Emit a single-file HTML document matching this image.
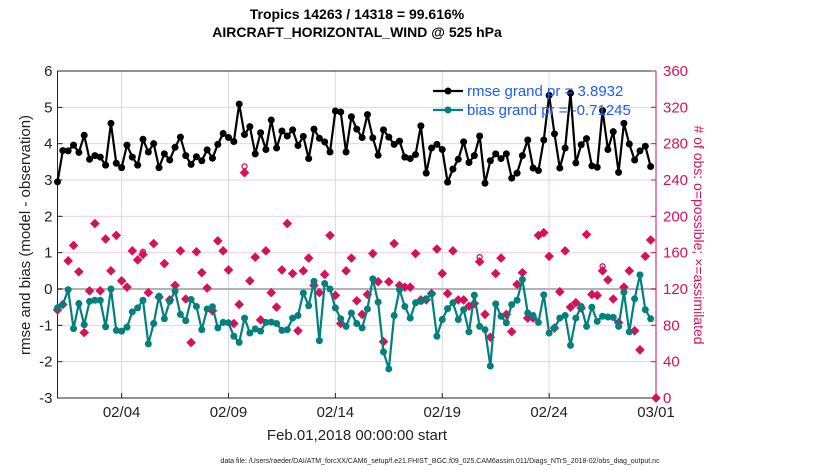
<!DOCTYPE html>
<html><head><meta charset="utf-8">
<style>
html,body{margin:0;padding:0;background:#fff;}
svg{display:block;font-family:"Liberation Sans",Arial,sans-serif;}
</style></head>
<body>
<svg id="chart" width="830" height="470" viewBox="0 0 830 470">
  <rect width="830" height="470" fill="#fff"/>
  <text x="357" y="19" text-anchor="middle" font-size="14" font-weight="bold">Tropics 14263 / 14318 = 99.616%</text>
  <text x="357" y="37" text-anchor="middle" font-size="14" font-weight="bold">AIRCRAFT_HORIZONTAL_WIND @ 525 hPa</text>
  <g id="grid"></g>
  <g id="axes"></g>
  <g id="series"></g>
  <text x="357" y="440" text-anchor="middle" font-size="15" fill="#222">Feb.01,2018 00:00:00 start</text>
  <text transform="translate(30,235) rotate(-90)" text-anchor="middle" font-size="15" fill="#222">rmse and bias (model - observation)</text>
  <text transform="translate(694,235) rotate(90)" text-anchor="middle" font-size="14" fill="#d6115a"># of obs: o=possible; ×=assimilated</text>
  <text x="440" y="463" text-anchor="middle" font-size="7" fill="#222">data file: /Users/raeder/DAI/ATM_forcXX/CAM6_setup/f.e21.FHIST_BGC.f09_025.CAM6assim.011/Diags_NTrS_2018-02/obs_diag_output.nc</text>
  <g id="legend"></g>
</svg>
<script>
const xTickLabels=["02/04","02/09","02/14","02/19","02/24","03/01"];
const xTickDays=[3,8,13,18,23,28];
const leftTicks=[6,5,4,3,2,1,0,-1,-2,-3];
const rightTicks=[0,40,80,120,160,200,240,280,320,360];
const rmse=[2.95,3.81,3.8,3.96,3.76,4.23,3.57,3.67,3.63,3.41,4.56,3.46,3.34,3.96,3.63,3.41,4.12,3.77,4.0,3.34,3.72,3.55,3.9,4.18,3.67,3.43,3.64,3.53,3.83,3.6,3.98,4.28,4.17,4.06,5.09,4.25,4.47,3.72,4.3,3.84,4.65,3.88,4.35,4.21,4.38,3.95,4.2,3.59,4.4,4.15,4.05,3.77,4.9,4.87,3.77,4.74,4.4,4.17,4.8,4.16,3.68,4.38,4.18,3.98,4.07,3.63,3.59,3.7,4.49,3.19,3.88,3.98,3.84,2.94,3.3,3.57,4.05,3.48,3.67,4.21,2.91,3.53,3.72,3.59,3.72,3.05,3.19,3.67,4.1,3.33,3.26,4.1,5.33,4.27,3.33,3.88,5.39,3.47,3.97,4.14,3.39,3.35,4.91,3.84,4.33,3.21,4.56,3.99,3.55,3.8,3.93,3.37];
const bias=[-0.52,-0.43,-0.02,-1.09,-0.4,-0.98,-0.34,-0.31,-0.31,-1.04,0,-1.14,-1.16,-1.05,-0.63,-0.52,-0.31,-1.51,-0.95,-0.2,-0.82,-0.34,-0.06,-0.7,-0.87,-0.29,-0.48,-1.12,-0.55,-0.49,-1.07,-0.92,-0.93,-1.3,-1.47,-0.8,-1.21,-1.1,-1.16,-0.92,-0.91,-0.95,-1.14,-1.12,-0.8,-0.73,-0.11,-0.46,0.21,-1.42,0.15,0,-0.52,-0.82,-1.03,-0.66,-0.95,-1.07,-0.55,0.28,-0.36,-1.73,-2.2,-0.73,-0.02,-0.48,-0.8,-0.38,-0.34,-0.27,-0.14,-1.3,-0.84,-0.54,-0.38,-0.84,-0.57,-1.18,-0.17,-1.03,-1.12,-2.12,-0.41,-0.75,-0.93,-0.43,-0.31,0.26,-0.66,-0.73,-0.92,-0.16,-1.21,-1.07,-0.8,-0.73,-1.55,-0.8,-0.48,-1.03,-0.5,-0.89,-0.75,-0.77,-0.78,-1.03,-0.09,-1.18,-0.27,0.39,-0.57,-0.82];
const obsUsed=[97,103,151,168,139,72,118,192,118,175,140,179,129,122,162,152,158,116,170,111,148,108,124,162,109,61,161,138,121,96,173,162,141,82,103,248,129,155,86,162,116,100,141,192,137,74,140,154,124,116,136,179,113,82,140,154,107,92,114,159,128,62,128,170,124,122,122,159,108,108,115,164,137,115,162,108,108,101,104,150,92,67,137,154,92,73,125,138,88,88,179,182,156,77,117,162,100,105,99,180,114,113,140,130,109,83,122,140,74,53,156,174,0];
const obsPossible=[97,103,151,168,139,72,118,192,118,175,140,179,129,122,162,152,161,116,170,111,148,108,124,162,109,61,161,138,121,96,173,162,141,82,103,255,129,155,86,162,116,100,141,192,137,74,140,154,124,116,136,179,113,82,140,154,107,92,114,159,128,62,128,170,124,122,122,159,108,108,115,164,137,115,162,108,108,101,104,155,92,67,137,154,92,73,125,138,88,88,179,182,156,77,117,162,100,105,99,180,114,113,145,130,109,83,122,140,74,53,156,174,0];

const NS='http://www.w3.org/2000/svg';
const X0=57.5,X1=656,Y0=71,Y1=398;
const xS=t=>X0+t/28*(X1-X0);
const yL=v=>Y0+(6-v)/9*(Y1-Y0);
const yR=c=>Y1-c/360*(Y1-Y0);
const MAG='#d6115a',TEAL='#00807f';
function mk(tag,attrs,parent){const e=document.createElementNS(NS,tag);for(const k in attrs)e.setAttribute(k,attrs[k]);parent.appendChild(e);return e;}
const grid=document.getElementById('grid'),axes=document.getElementById('axes'),ser=document.getElementById('series'),leg=document.getElementById('legend');

rightTicks.forEach(c=>{
  if(c===0||c===360)return;
  const l=mk('line',{x1:X0,x2:X1,y1:yR(c),y2:yR(c),stroke:'#f3cfdc','stroke-width':1},grid);
  
  
});
xTickDays.forEach(d=>{
  if(d===28)return;
  const l=mk('line',{x1:xS(d),x2:xS(d),y1:Y0,y2:Y1,stroke:'#d9d9d9','stroke-width':1},grid);
  
  
});
const z=mk('line',{x1:X0,x2:X1,y1:yL(0),y2:yL(0),stroke:'#b3b3b3','stroke-width':2},grid);



const ab=mk('path',{d:`M${X0},${Y0}H${X1}M${X0},${Y0}V${Y1}H${X1}`,fill:'none',stroke:'#262626','stroke-width':1},axes);


const ra=mk('line',{x1:X1,x2:X1,y1:Y0,y2:Y1,stroke:MAG,'stroke-width':1},axes);


leftTicks.forEach(v=>{
  mk('line',{x1:X0,x2:X0+5,y1:yL(v),y2:yL(v),stroke:'#262626'},axes);
  const t=mk('text',{x:X0-5,y:yL(v)+5,'text-anchor':'end','font-size':15,fill:'#222'},axes);
  t.textContent=v;
  
  
});
rightTicks.forEach(c=>{
  mk('line',{x1:X1-5,x2:X1,y1:yR(c),y2:yR(c),stroke:MAG},axes);
  const t=mk('text',{x:X1+7,y:yR(c)+5,'font-size':15,fill:MAG},axes);
  t.textContent=c;
  
  
});
xTickDays.forEach((d,i)=>{
  mk('line',{x1:xS(d),x2:xS(d),y1:Y1,y2:Y1-5,stroke:'#262626'},axes);
  const t=mk('text',{x:xS(d),y:Y1+19,'text-anchor':'middle','font-size':15,fill:'#222'},axes);
  t.textContent=xTickLabels[i];
  
  
});

function diamond(cx,cy,r){return `M${cx},${cy-r}L${cx+r},${cy}L${cx},${cy+r}L${cx-r},${cy}Z`;}
obsPossible.forEach((c,i)=>{
  if(c===obsUsed[i])return;
  const o=mk('circle',{cx:xS(i*0.25),cy:yR(c),r:2.5,fill:'none',stroke:MAG,'stroke-width':1.3},ser);
  
  
});
obsUsed.forEach((c,i)=>{
  const p=mk('path',{d:diamond(xS(i*0.25),yR(c),4.8),fill:MAG},ser);
  
  
});

function series(vals,color,name){
  const pts=vals.map((v,i)=>[xS(i*0.25),yL(v)]);
  const pl=mk('polyline',{points:pts.map(p=>p.join(',')).join(' '),fill:'none',stroke:color,'stroke-width':2.2,'stroke-linejoin':'round'},ser);
  
  
  pts.forEach(p=>{
    const c=mk('circle',{cx:p[0],cy:p[1],r:3.5,fill:color},ser);
    
    
  });
}
series(bias,TEAL,'bias');
series(rmse,'#000','rmse');

[['#000','rmse grand pr = 3.8932',91,'legend-entry-rmse'],[TEAL,'bias grand pr = -0.71245',110,'legend-entry-bias']].forEach(e=>{
  const g=mk('g',{},leg);
  
  
  mk('line',{x1:433,x2:463,y1:e[2],y2:e[2],stroke:e[0],'stroke-width':2.2},g);
  mk('circle',{cx:448,cy:e[2],r:3.5,fill:e[0]},g);
  const t=mk('text',{x:467,y:e[2]+5,'font-size':15,fill:'#1a5cff'},g);
  t.textContent=e[1];
});
</script>
</body></html>
